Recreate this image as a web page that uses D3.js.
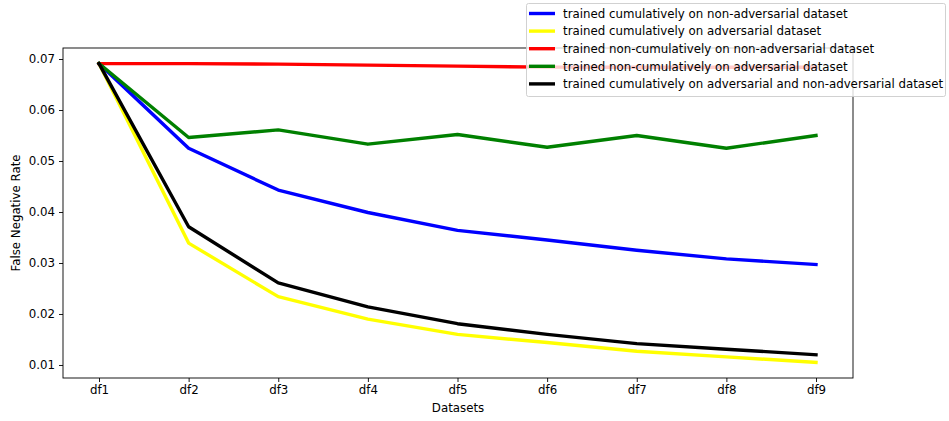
<!DOCTYPE html>
<html><head><meta charset="utf-8">
<script src="https://cdn.jsdelivr.net/npm/d3@7"></script>
<style>body{margin:0;background:#fff}svg{display:block}text{font-family:"DejaVu Sans",sans-serif}</style>
</head><body>
<svg id="c" width="949" height="421"></svg>
<script>
const categories = ["df1","df2","df3","df4","df5","df6","df7","df8","df9"];
const seriesNames = [
  "trained cumulatively on non-adversarial dataset",
  "trained cumulatively on adversarial dataset",
  "trained non-cumulatively on non-adversarial dataset",
  "trained non-cumulatively on adversarial dataset",
  "trained cumulatively on adversarial and non-adversarial dataset"
];
const seriesColors = ["#0000ff","#ffff00","#ff0000","#008000","#000000"];
const cumNonAdv   = [0.0691,0.0525,0.0443,0.0399,0.0364,0.0345,0.0325,0.0308,0.0297];
const cumAdv      = [0.0691,0.0339,0.0234,0.0190,0.0160,0.0144,0.0127,0.0116,0.0105];
const nonCumNonAdv= [0.0691,0.0691,0.0690,0.0688,0.0686,0.0684,0.0684,0.0684,0.0684];
const nonCumAdv   = [0.0691,0.0546,0.0561,0.0533,0.0552,0.0527,0.0550,0.0525,0.0550];
const cumBoth     = [0.0691,0.0371,0.0261,0.0214,0.0181,0.0160,0.0142,0.0131,0.0120];
const yTicks = [0.01,0.02,0.03,0.04,0.05,0.06,0.07];
const seriesValues = [cumNonAdv, cumAdv, nonCumNonAdv, nonCumAdv, cumBoth];

const svg = d3.select("#c");
const L=63, R=853, T=48, B=378;
const x = d3.scalePoint().domain(categories).range([99,816]);
const y = d3.scaleLinear().domain([0.00745,0.07216]).range([B,T]);

const fs = "11.8px";
// axes
const gx = svg.append("g").attr("transform",`translate(0,${B})`)
  .call(d3.axisBottom(x).tickSize(4).tickPadding(4));
const gy = svg.append("g").attr("transform",`translate(${L},0)`)
  .call(d3.axisLeft(y).tickValues(yTicks).tickFormat(d3.format(".2f")).tickSize(4).tickPadding(4));
[gx,gy].forEach(g=>{
  g.select(".domain").remove();
  g.selectAll("text").attr("font-size",fs).attr("fill","#000").style("font-family","DejaVu Sans");
  g.selectAll("line").attr("stroke","#000").attr("stroke-width",0.9);
});

// lines
const line = d3.line().x((d,i)=>x(categories[i])).y(d=>y(d));
seriesValues.forEach((vals,k)=>{
  svg.append("path").datum(vals).attr("d",line)
    .attr("fill","none").attr("stroke",seriesColors[k]).attr("stroke-width",3.4)
    .attr("stroke-linejoin","round").attr("stroke-linecap","square");
});

// frame
svg.append("rect").attr("x",L).attr("y",T).attr("width",R-L).attr("height",B-T)
  .attr("fill","none").attr("stroke","#000").attr("stroke-width",0.9);

// axis labels
svg.append("text").attr("x",(L+R)/2).attr("y",412).attr("text-anchor","middle")
  .attr("font-size",fs).text("Datasets");
svg.append("text").attr("transform",`translate(20,${(T+B)/2}) rotate(-90)`)
  .attr("text-anchor","middle").attr("font-size",fs).text("False Negative Rate");

// legend
const lg = svg.append("g");
lg.append("rect").attr("x",526.5).attr("y",3.5).attr("width",419).attr("height",93).attr("rx",2)
  .attr("fill","rgba(255,255,255,0.8)").attr("stroke","#cccccc").attr("stroke-width",0.9);
seriesNames.forEach((n,k)=>{
  const yy = 13.5 + k*17.6;
  lg.append("line").attr("x1",529).attr("x2",555).attr("y1",yy).attr("y2",yy)
    .attr("stroke",seriesColors[k]).attr("stroke-width",3.4);
  lg.append("text").attr("x",563).attr("y",yy+4.2).attr("font-size",fs).text(n);
});
</script>
</body></html>
